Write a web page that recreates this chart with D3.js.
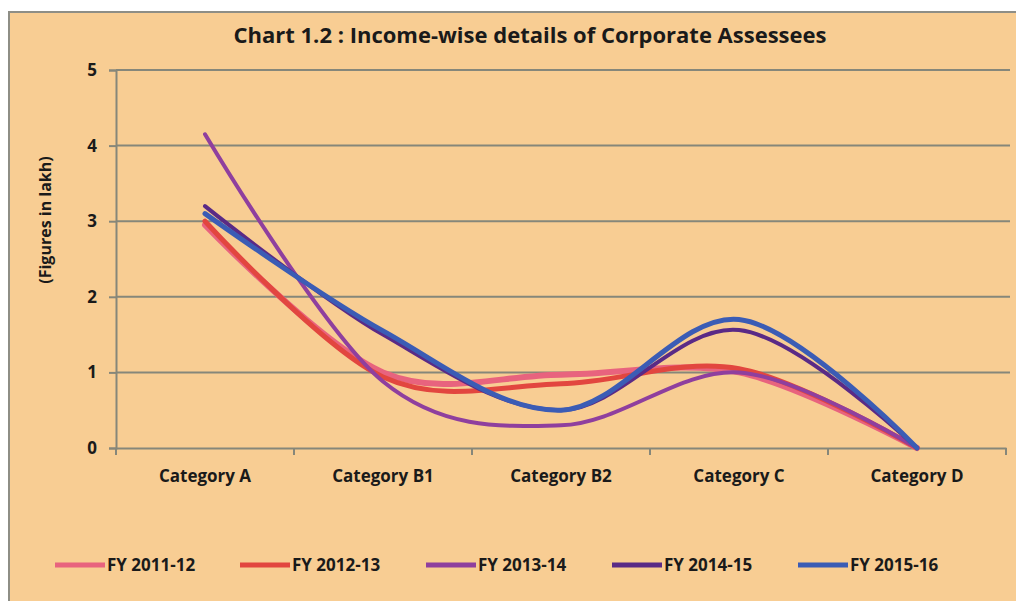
<!DOCTYPE html>
<html>
<head>
<meta charset="utf-8">
<script src="https://cdn.jsdelivr.net/npm/d3@7.9.0/dist/d3.min.js"></script>
<style>
  body { margin: 0; background: #fff; }
  svg text { font-family: "Open Sans", sans-serif; font-weight: bold; fill: #1a1a1a; }
</style>
</head>
<body>
<svg id="chart" width="1016" height="601"></svg>
<script>
// data (figures in lakh)
const categories = ["Category A", "Category B1", "Category B2", "Category C", "Category D"];
const seriesNames = ["FY 2011-12", "FY 2012-13", "FY 2013-14", "FY 2014-15", "FY 2015-16"];
const fy201112 = [2.95, 1.0, 0.97, 1.0, 0];
const fy201213 = [3.0, 0.94, 0.85, 1.05, 0];
const fy201314 = [4.15, 0.88, 0.3, 1.0, 0];
const fy201415 = [3.2, 1.5, 0.5, 1.56, 0];
const fy201516 = [3.1, 1.55, 0.5, 1.7, 0];
const yTicks = [0, 1, 2, 3, 4, 5];

const seriesValues = [fy201112, fy201213, fy201314, fy201415, fy201516];
const colors = ["#e8637e", "#e2463f", "#8f3f9e", "#5a2a86", "#3b5cb5"];
const widths = [6, 5, 4, 4, 5];

const svg = d3.select("#chart");
const margin = { left: 116, right: 10, top: 70, bottom: 153 };
const width = 1016, height = 601;

svg.append("rect")
  .attr("x", 9).attr("y", 12)
  .attr("width", 1016).attr("height", 600)
  .attr("fill", "#f8cd93")
  .attr("stroke", "#8e8e86")
  .attr("stroke-width", 2);

const x = d3.scaleBand()
  .domain(categories)
  .range([margin.left, 1006]);

const y = d3.scaleLinear()
  .domain([0, 5])
  .range([height - margin.bottom, margin.top]);

// title
svg.append("text")
  .attr("x", 530).attr("y", 43)
  .attr("text-anchor", "middle")
  .style("font-size", "22px")
  .text("Chart 1.2 : Income-wise details of Corporate Assessees");

// gridlines
svg.append("g")
  .selectAll("line")
  .data(yTicks.filter((d) => d > 0))
  .join("line")
  .attr("x1", margin.left).attr("x2", 1010)
  .attr("y1", (d) => y(d)).attr("y2", (d) => y(d))
  .attr("stroke", "#86877a")
  .attr("stroke-width", 2);

// y axis
const yAxis = svg.append("g")
  .attr("transform", `translate(${margin.left},0)`)
  .call(d3.axisLeft(y).tickValues(yTicks).tickFormat(d3.format("d")).tickSize(7).tickPadding(12));
yAxis.select(".domain").attr("stroke", "#86877a").attr("stroke-width", 2);
yAxis.selectAll(".tick line").attr("stroke", "#86877a").attr("stroke-width", 2);
yAxis.selectAll("text").style("font-size", "17px").attr("fill", "#1a1a1a");

// x axis
const xAxis = svg.append("g")
  .attr("transform", `translate(0,${y(0)})`)
  .call(d3.axisBottom(x).tickSize(0).tickPadding(22));
xAxis.select(".domain").attr("stroke", "#86877a").attr("stroke-width", 2);
xAxis.selectAll("text").style("font-size", "17px").attr("fill", "#1a1a1a");
xAxis.selectAll(".bound")
  .data(categories.concat(["end"]))
  .join("line")
  .attr("class", "bound")
  .attr("x1", (d, i) => margin.left + i * x.step())
  .attr("x2", (d, i) => margin.left + i * x.step())
  .attr("y1", 0).attr("y2", 7)
  .attr("stroke", "#86877a")
  .attr("stroke-width", 2);

// y axis title
svg.append("text")
  .attr("transform", "translate(51,220) rotate(-90)")
  .attr("text-anchor", "middle")
  .style("font-size", "16px")
  .text("(Figures in lakh)");

// lines
const line = d3.line()
  .x((d, i) => x(categories[i]) + x.bandwidth() / 2)
  .y((d) => y(d))
  .curve(d3.curveCardinal.tension(0));

svg.append("g")
  .selectAll("path")
  .data(seriesValues)
  .join("path")
  .attr("d", (d) => line(d))
  .attr("fill", "none")
  .attr("stroke", (d, i) => colors[i])
  .attr("stroke-width", (d, i) => widths[i])
  .attr("stroke-linecap", "round");

// legend
const legendX = [55, 240, 426, 612, 798];
const legend = svg.append("g")
  .selectAll("g")
  .data(seriesNames)
  .join("g")
  .attr("transform", (d, i) => `translate(${legendX[i]},565)`);
legend.append("line")
  .attr("x1", 0).attr("x2", 50)
  .attr("stroke", (d, i) => colors[i])
  .attr("stroke-width", 5);
legend.append("text")
  .attr("x", 52).attr("y", 6)
  .style("font-size", "17px")
  .text((d) => d);
</script>
</body>
</html>
